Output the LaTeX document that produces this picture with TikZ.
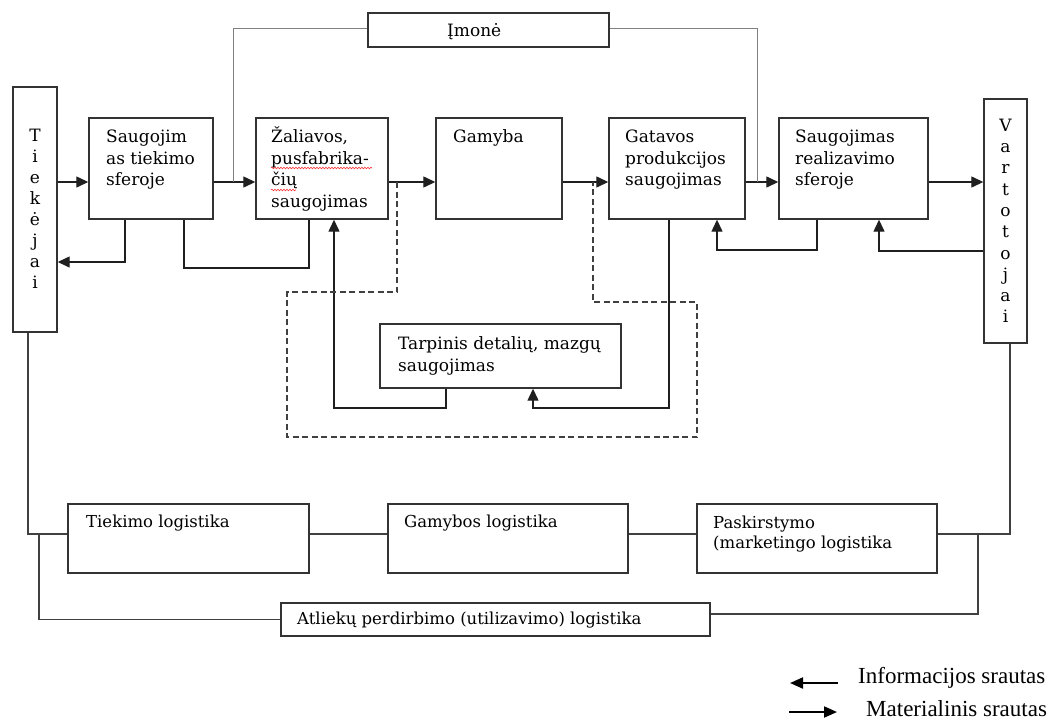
\documentclass[tikz,border=0pt]{standalone}
\usepackage{fontspec}
\setmainfont{DejaVu Serif}
\newfontfamily\legfont{Liberation Serif}
\usetikzlibrary{fit,arrows.meta,decorations.pathmorphing,calc}
\newcommand\tp{\rule{0pt}{16pt}}
\begin{document}
\begin{tikzpicture}[x=1pt,y=-1pt,
  box/.style={draw=black!80, line width=1.4pt, inner sep=0pt, fill=white},
  txt/.style={inner sep=0pt, align=left, anchor=north west, text=black, font=\fontsize{17}{21.8}\selectfont},
  btxt/.style={txt, font=\fontsize{16.5}{20.5}\selectfont},
  vtxt/.style={inner sep=0pt, align=center, anchor=north, text=black},
  con/.style={line width=1.3pt, draw=black!88},
  arr/.style={con, -{Triangle[length=12pt,width=11pt]}},
  imline/.style={line width=0.8pt, draw=black!50},
  dashline/.style={line width=1.1pt, draw=black!75, dash pattern=on 6pt off 3.5pt},
  bcon/.style={line width=1.1pt, draw=black!75},
  leg/.style={inner sep=0pt, text=black, font=\legfont\fontsize{23}{26}\selectfont},
  legarr/.style={line width=2pt, draw=black, -{Triangle[length=13pt,width=11pt]}},
  wave/.style={draw=red!80, line width=0.6pt, decorate, decoration={snake, amplitude=0.8pt, segment length=3pt}}
]
\useasboundingbox (0,0) rectangle (1056,720);
\fill[white] (0,0) rectangle (1056,720);

% boxes
\node[box, fit={(13,87) (57,332)}] (tie) {};
\node[box, fit={(89,118) (213,219)}] (s1) {};
\node[box, fit={(256,118) (388,219)}] (zal) {};
\node[box, fit={(436,118) (562,219)}] (gam) {};
\node[box, fit={(609,118) (745,219)}] (gat) {};
\node[box, fit={(779,118) (928,219)}] (rea) {};
\node[box, fit={(984,99) (1027,343)}] (var) {};
\node[box, fit={(368,13) (609,47)}] (imo) {};
\node[box, fit={(380,324) (621,388)}] (tar) {};
\node[box, fit={(68,504) (309,573)}] (tl) {};
\node[box, fit={(388,504) (628,573)}] (gl) {};
\node[box, fit={(697,504) (937,573)}] (pl) {};
\node[box, fit={(281,603) (710,636)}] (al) {};

% texts
\node[vtxt, font=\fontsize{17}{21}\selectfont] (tiet) at (35,125) {\tp T\\i\\e\\k\\ė\\j\\a\\i};
\node[vtxt, font=\fontsize{17}{21.3}\selectfont] (vart) at (1005.5,115) {\tp V\\a\\r\\t\\o\\t\\o\\j\\a\\i};
\node[txt] (s1t) at (106,126) {\tp Saugojim\\as tiekimo\\sferoje};
\node[txt] (zalt) at (271,126) {\tp Žaliavos,\\pusfabrika-\\čių\\saugojimas};
\node[txt] (gamt) at (453,126) {\tp Gamyba};
\node[txt] (gatt) at (625,126) {\tp Gatavos\\produkcijos\\saugojimas};
\node[txt] (reat) at (795,126) {\tp Saugojimas\\realizavimo\\sferoje};
\node[txt] (imot) at (447,20) {\tp Įmonė};
\node[txt] (tart) at (398,333) {\tp Tarpinis detalių, mazgų\\saugojimas};
\node[btxt] (tlt) at (86,511) {\tp Tiekimo logistika};
\node[btxt] (glt) at (404,511) {\tp Gamybos logistika};
\node[btxt] (plt) at (713,512) {\tp Paskirstymo\\(marketingo logistika};
\node[btxt] (alt) at (297,608) {\tp Atliekų perdirbimo (utilizavimo) logistika};

% spell-check waves
\draw[wave] (271,168) -- (372,168);
\draw[wave] (271,190) -- (296,190);

% material flow
\coordinate (fy) at (0,182);
\draw[arr] (tie.east |- fy) -- (s1.west |- fy);
\draw[arr] (s1.east |- fy) -- (zal.west |- fy);
\draw[arr] (zal.east |- fy) -- (gam.west |- fy);
\draw[arr] (gam.east |- fy) -- (gat.west |- fy);
\draw[arr] (gat.east |- fy) -- (rea.west |- fy);
\draw[arr] (rea.east |- fy) -- (var.west |- fy);

% company lines
\coordinate (j1) at (233,182);
\coordinate (j2) at (757,182);
\coordinate (iy) at (0,28);
\draw[imline] (imo.west |- iy) -| (j1);
\draw[imline] (imo.east |- iy) -| (j2);

% information flow
\coordinate (a1) at (125,262);
\draw[arr] (s1.south -| a1) |- (tie.east |- a1);
\coordinate (a2) at (184,268);
\coordinate (a3) at (309,268);
\draw[con] (s1.south -| a2) |- (a3) -- (zal.south -| a3);
\coordinate (a4) at (334,408);
\coordinate (a5) at (446,408);
\draw[arr] (tar.south -| a5) |- (a4) -- (zal.south -| a4);
\coordinate (a6) at (669,408);
\coordinate (a7) at (533,408);
\draw[arr] (gat.south -| a6) |- (a7) -- (tar.south -| a7);
\coordinate (a8) at (817,250);
\coordinate (a9) at (717,250);
\draw[arr] (rea.south -| a8) |- (a9) -- (gat.south -| a9);
\coordinate (a10) at (879,251);
\draw[arr] (var.west |- a10) -| (rea.south -| a10);

% dashed region
\draw[dashline] (397,182) -- (397,292) -- (287,292) -- (287,437) -- (697,437) -- (697,302) -- (593,302) -- (593,182);

% bottom connectors
\coordinate (b0) at (28,534);
\draw[bcon] (tie.south -| b0) |- (tl.west |- b0);
\coordinate (b1) at (39,534);
\draw[bcon] (b1) |- (al.west);
\draw[bcon] (tl.east |- b0) -- (gl.west |- b0);
\draw[bcon] (gl.east |- b0) -- (pl.west |- b0);
\coordinate (b3) at (1010,534);
\draw[bcon] (pl.east |- b3) -| (var.south -| b3);
\coordinate (b4) at (978,534);
\coordinate (b5) at (978,614);
\draw[bcon] (b4) -- (b5) -- (al.east |- b5);

% legend
\node[leg, anchor=base west] (li) at (858,683) {Informacijos srautas};
\node[leg, anchor=base west] (lm) at (866,716) {Materialinis srautas};
\draw[legarr] ([xshift=-20pt]li.base west) -- ++(-48,0);
\draw[legarr] ([xshift=-77pt,yshift=4pt]lm.base west) -- ++(48,0);
\end{tikzpicture}
\end{document}
